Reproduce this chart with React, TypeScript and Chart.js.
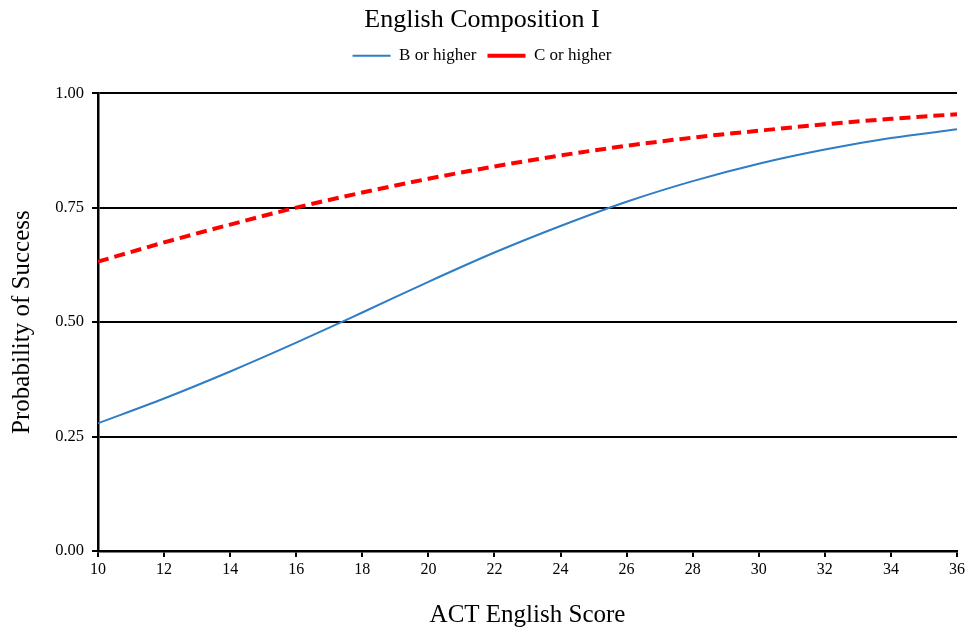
import React, { useEffect, useRef } from "react";
import { Chart, registerables } from "chart.js";

Chart.register(...registerables);

const scores = [10, 12, 14, 16, 18, 20, 22, 24, 26, 28, 30, 32, 34, 36];
const bOrHigher = [0.279, 0.333, 0.392, 0.455, 0.521, 0.588, 0.652, 0.71, 0.763, 0.808, 0.846, 0.877, 0.902, 0.921];
const cOrHigher = [0.632, 0.674, 0.713, 0.75, 0.783, 0.813, 0.84, 0.864, 0.885, 0.903, 0.918, 0.932, 0.944, 0.954];
const seriesNames = ["B or higher", "C or higher"];
const yTicks = [0, 0.25, 0.5, 0.75, 1.0];

const SERIF = "'Liberation Serif', 'Times New Roman', serif";

const legendSpacer = {
  id: "legendSpacer",
  beforeInit(chart: any) {
    const origFit = chart.legend.fit;
    chart.legend.fit = function fit() {
      origFit.bind(chart.legend)();
      this.height += 19;
    };
  },
};

export default function App() {
  const ref = useRef<HTMLCanvasElement | null>(null);
  useEffect(() => {
    if (!ref.current) return;
    const chart = new Chart(ref.current, {
      type: "line",
      data: {
        datasets: [
          {
            label: seriesNames[0],
            data: scores.map((s, i) => ({ x: s, y: bOrHigher[i] })),
            borderColor: "#2E7DC6",
            backgroundColor: "#2E7DC6",
            borderWidth: 2,
            pointRadius: 0,
            cubicInterpolationMode: "monotone",
          },
          {
            label: seriesNames[1],
            data: scores.map((s, i) => ({ x: s, y: cOrHigher[i] })),
            borderColor: "#FF0000",
            backgroundColor: "#FF0000",
            borderWidth: 4,
            borderDash: [11, 6],
            pointRadius: 0,
            cubicInterpolationMode: "monotone",
          },
        ],
      },
      plugins: [legendSpacer],
      options: {
        animation: false,
        responsive: false,
        maintainAspectRatio: false,
        layout: { padding: { left: 7, right: 11, top: 0, bottom: 0 } },
        plugins: {
          title: {
            display: true,
            text: "English Composition I",
            color: "#000",
            font: { family: SERIF, size: 26, weight: "normal" },
            padding: { top: 5, bottom: 0 },
          },
          legend: {
            display: true,
            labels: {
              color: "#000",
              font: { family: SERIF, size: 17 },
              usePointStyle: true,
              pointStyle: "line",
              pointStyleWidth: 38,
              boxWidth: 38,
              boxHeight: 3,
              padding: 11,
            },
          },
          tooltip: { enabled: false },
        },
        scales: {
          x: {
            type: "linear",
            min: 10,
            max: 36,
            afterFit: (scale: any) => {
              scale.height = 83;
            },
            ticks: {
              stepSize: 2,
              color: "#000",
              font: { family: SERIF, size: 16 },
              padding: 3,
              maxRotation: 0,
            },
            grid: {
              drawOnChartArea: false,
              drawTicks: true,
              tickLength: 6,
              color: "#000",
              lineWidth: 2,
            },
            border: { color: "#000", width: 2.5 },
            title: {
              display: true,
              text: "ACT English Score",
              color: "#000",
              font: { family: SERIF, size: 25 },
              padding: { top: 0, bottom: 4 },
            },
          },
          y: {
            min: 0,
            max: 1,
            afterFit: (scale: any) => {
              scale.width = 91;
            },
            afterBuildTicks: (scale: any) => {
              scale.ticks = yTicks.map((v) => ({ value: v }));
            },
            ticks: {
              color: "#000",
              font: { family: SERIF, size: 16.5 },
              padding: 8,
              callback: (v: any) => Number(v).toFixed(2),
            },
            grid: {
              color: "#000",
              lineWidth: 2,
              tickLength: 6,
            },
            border: { color: "#000", width: 2.5 },
            title: {
              display: true,
              text: "Probability of Success",
              color: "#000",
              font: { family: SERIF, size: 25 },
              padding: { top: 0, bottom: 0 },
            },
          },
        },
      },
    });
    return () => chart.destroy();
  }, []);
  return (
    <div style={{ position: "absolute", left: 0, top: 0, width: 968, height: 634, background: "#fff" }}>
      <canvas ref={ref} width={968} height={634} style={{ width: 968, height: 634 }} />
    </div>
  );
}
